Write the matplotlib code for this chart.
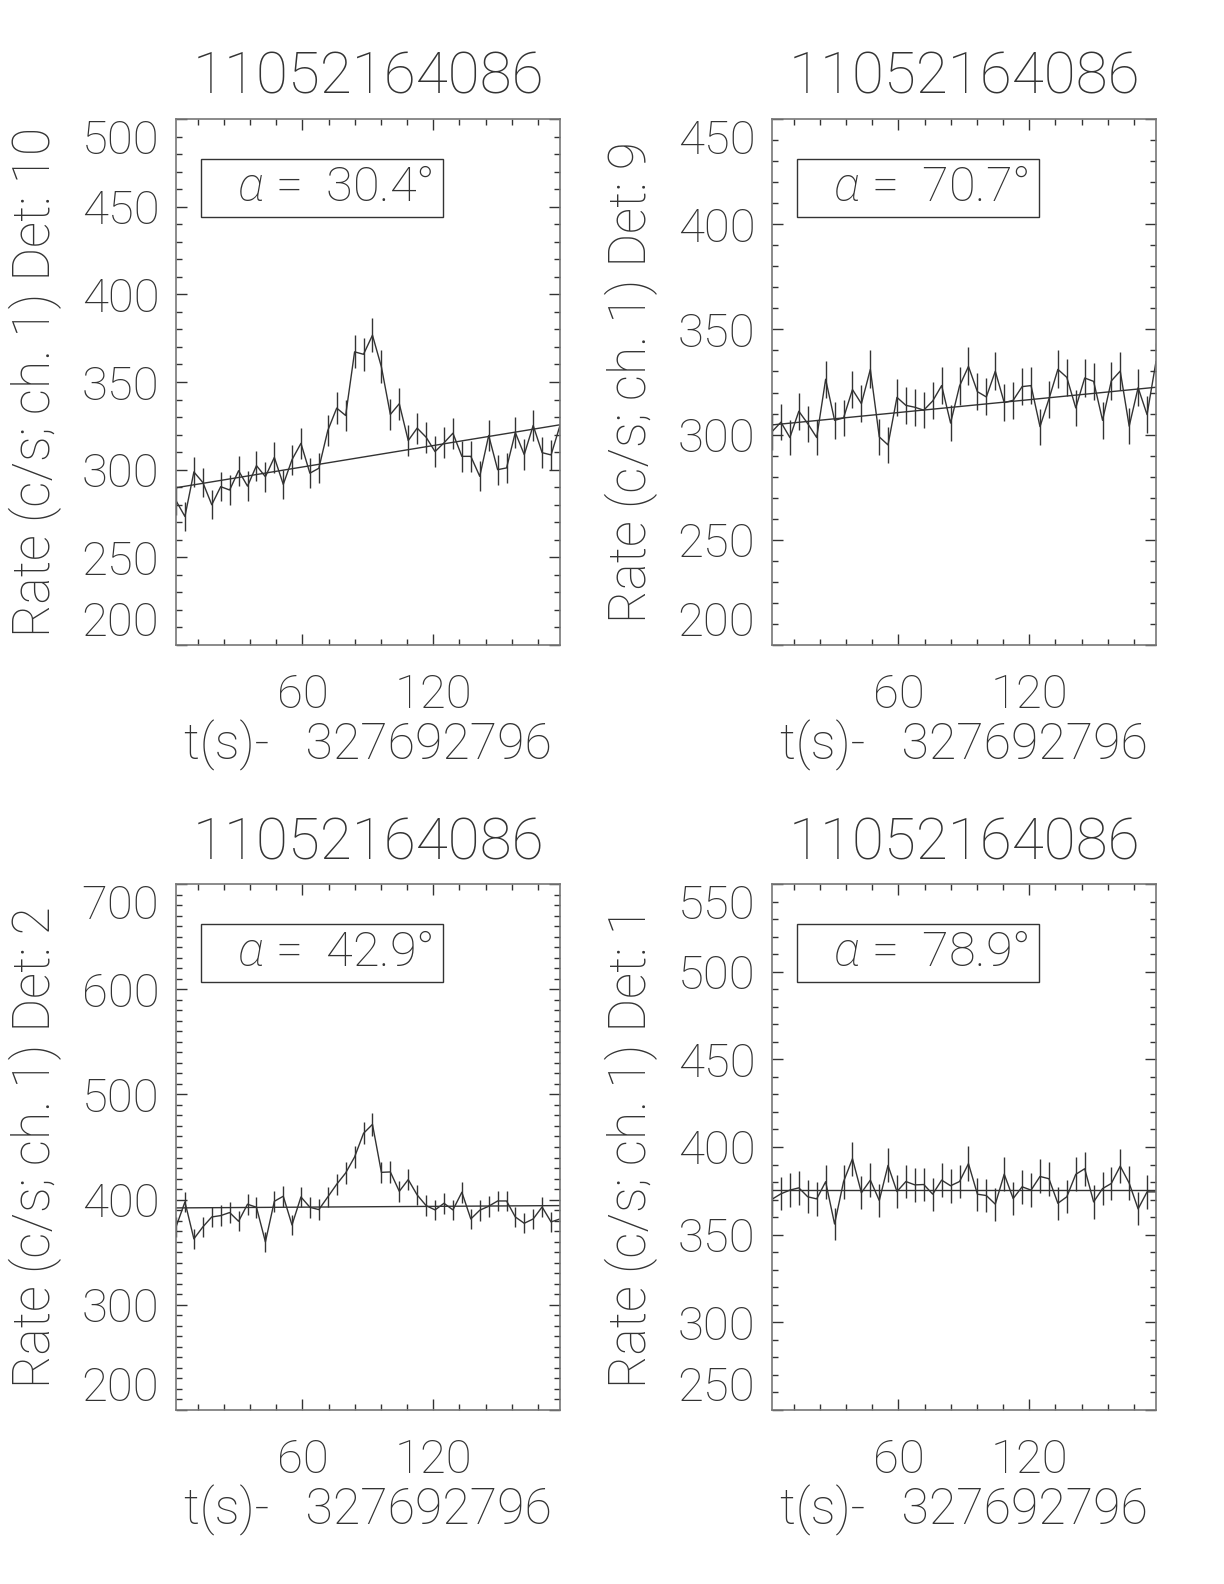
from matplotlib import pyplot as plt
from matplotlib import font_manager as fm
from matplotlib.patches import Rectangle
from matplotlib.ticker import MultipleLocator
import numpy as np


# 选一个细体字体（模仿 IDL 的 Hershey 字）
def pick_light_font():
    for fam in ['Roboto', 'Lato', 'Open Sans', 'Noto Sans', 'DejaVu Sans']:
        ws = []
        for f in fm.fontManager.ttflist:
            w = f.weight if isinstance(f.weight, int) else fm.weight_dict.get(f.weight, 400)
            if f.name == fam and f.style == 'normal' and w <= 300:
                ws.append(w)
        if ws:
            return fam, min(ws)
    return 'DejaVu Sans', 'normal'


font_name, font_w = pick_light_font()
plt.rcParams['font.family'] = [font_name, 'DejaVu Sans']
plt.rcParams['font.weight'] = font_w
plt.rcParams['mathtext.fontset'] = 'custom'
plt.rcParams['mathtext.it'] = font_name + ':italic'
plt.rcParams['mathtext.rm'] = font_name

# 数据
time = [2.0, 6.1, 10.2, 14.3, 18.4, 22.5, 26.6, 30.7, 34.8, 38.9, 43.0,
        47.1, 51.2, 55.2, 59.3, 63.4, 67.5, 71.6, 75.7, 79.8, 83.9, 88.0,
        92.1, 96.2, 100.3, 104.4, 108.5, 112.6, 116.7, 120.8, 124.9, 129.0,
        133.1, 137.2, 141.3, 145.4, 149.5, 153.6, 157.6, 161.7, 165.8,
        169.9, 174.0, 178.1]

rate_det10 = [282.3, 273.3, 298.7, 292.7, 280.0, 290.3, 288.4, 299.4, 290.6,
              302.3, 296.0, 307.0, 291.6, 305.7, 315.0, 298.0, 300.8, 322.3,
              335.1, 330.9, 367.2, 365.8, 376.7, 358.6, 331.5, 337.6, 316.6,
              323.7, 318.5, 310.3, 315.3, 320.8, 307.6, 307.6, 296.2, 319.5,
              300.0, 301.0, 321.2, 308.6, 325.2, 309.7, 308.4, 325.2]
err_det10 = [8.3, 8.2, 8.5, 8.5, 8.3, 8.4, 8.4, 8.5, 8.4, 8.6, 8.5, 8.7, 8.4,
             8.6, 8.8, 8.5, 8.6, 8.9, 9.0, 9.0, 9.5, 9.4, 9.6, 9.4, 9.0, 9.1,
             8.8, 8.9, 8.8, 8.7, 8.8, 8.8, 8.7, 8.7, 8.5, 8.8, 8.6, 8.6, 8.8,
             8.7, 8.9, 8.7, 8.7, 8.9]

rate_det9 = [301.4, 305.9, 298.6, 311.1, 305.2, 298.6, 326.3, 306.8, 307.9,
             321.4, 314.7, 331.0, 298.9, 295.1, 317.7, 313.9, 313.0, 311.6,
             316.0, 323.3, 305.5, 323.1, 332.4, 320.4, 317.9, 330.1, 315.2,
             316.3, 322.8, 323.3, 303.8, 316.9, 331.0, 327.2, 312.7, 326.9,
             325.3, 306.8, 325.5, 330.2, 304.0, 322.3, 309.5, 334.7]
err_det9 = [8.6, 8.6, 8.5, 8.7, 8.6, 8.5, 8.9, 8.7, 8.7, 8.9, 8.8, 9.0, 8.5,
            8.5, 8.8, 8.7, 8.7, 8.7, 8.8, 8.9, 8.6, 8.9, 9.0, 8.8, 8.8, 9.0,
            8.8, 8.8, 8.9, 8.9, 8.6, 8.8, 9.0, 8.9, 8.7, 8.9, 8.9, 8.7, 8.9,
            9.0, 8.6, 8.9, 8.7, 9.0]

rate_det2 = [374.0, 397.8, 362.7, 374.0, 383.5, 384.8, 387.7, 379.4, 395.6,
             392.7, 359.8, 398.4, 403.2, 375.9, 402.5, 392.7, 390.5, 402.5,
             414.6, 425.3, 440.5, 463.0, 471.5, 425.9, 426.3, 407.9, 419.0,
             404.4, 394.3, 390.2, 396.5, 390.2, 407.0, 381.6, 389.9, 393.7,
             398.7, 398.7, 383.5, 377.5, 381.6, 393.0, 378.8, 381.6]
err_det2 = [9.6, 9.8, 9.4, 9.6, 9.7, 9.7, 9.7, 9.6, 9.8, 9.8, 9.4, 9.9, 9.9,
            9.6, 9.9, 9.8, 9.8, 9.9, 10.1, 10.2, 10.4, 10.6, 10.7, 10.2, 10.2,
            10.0, 10.1, 9.9, 9.8, 9.8, 9.8, 9.8, 10.0, 9.6, 9.8, 9.8, 9.9, 9.9,
            9.7, 9.6, 9.6, 9.8, 9.6, 9.6]

rate_det1 = [370.2, 373.3, 375.4, 376.7, 371.6, 370.4, 380.2, 356.1, 380.2,
             393.3, 373.9, 381.1, 369.5, 389.5, 374.6, 380.3, 378.4, 378.6,
             373.1, 381.1, 377.9, 380.3, 390.5, 373.1, 372.3, 367.4, 384.5,
             370.6, 377.3, 375.4, 383.2, 381.9, 367.9, 371.6, 384.4, 387.6,
             368.7, 376.3, 379.2, 389.1, 379.4, 364.7, 374.4, 374.4]
err_det1 = [9.5, 9.5, 9.6, 9.6, 9.5, 9.5, 9.6, 9.3, 9.6, 9.8, 9.5, 9.6, 9.5,
            9.7, 9.6, 9.6, 9.6, 9.6, 9.5, 9.6, 9.6, 9.6, 9.8, 9.5, 9.5, 9.5,
            9.7, 9.5, 9.6, 9.6, 9.7, 9.6, 9.5, 9.5, 9.7, 9.7, 9.5, 9.6, 9.6,
            9.7, 9.6, 9.4, 9.6, 9.6]

rates = [rate_det10, rate_det9, rate_det2, rate_det1]
errs = [err_det10, err_det9, err_det2, err_det1]
fit_start = [289.7, 304.6, 392.1, 375.6]   # 背景拟合直线（起点/终点）
fit_end = [325.6, 322.5, 394.3, 375.6]
det_names = ['10', '9', '2', '1']
alphas = [30.4, 70.7, 42.9, 78.9]
burst_id = '11052164086'
t_ref = '327692796'
ylims = [(200, 500), (200, 450), (200, 700), (250, 550)]
yticks = [[200, 250, 300, 350, 400, 450, 500],
          [200, 250, 300, 350, 400, 450],
          [200, 300, 400, 500, 600, 700],
          [250, 300, 350, 400, 450, 500, 550]]
xticks = [60, 120]

ink = '#333333'

fig = plt.figure(figsize=(12.24, 15.84), dpi=100)
W, H = 1224, 1584
lefts = [176, 772, 176, 772]
tops = [119, 119, 884, 884]

for k in range(4):
    ax = fig.add_axes([lefts[k] / W, 1 - (tops[k] + 526) / H, 384 / W, 526 / H])
    r = np.array(rates[k])
    e = np.array(errs[k])

    ax.plot(time, r, color=ink, lw=1.0)
    ax.vlines(time, r - e, r + e, color=ink, lw=1.0)
    ax.plot([time[0], time[-1]], [fit_start[k], fit_end[k]], color=ink, lw=1.0)

    ax.set_xlim(time[0], time[-1])
    ax.set_ylim(*ylims[k])
    ax.set_xticks(xticks)
    ax.xaxis.set_minor_locator(MultipleLocator(12))
    ax.set_yticks(yticks[k])
    ax.yaxis.set_minor_locator(MultipleLocator(10))

    ax.tick_params(which='both', direction='in', top=True, right=True,
                   color=ink, width=1.0)
    ax.tick_params(which='major', length=8)
    ax.tick_params(which='minor', length=4)
    ax.tick_params(axis='y', labelsize=34, pad=12, labelcolor=ink)
    ax.tick_params(axis='x', labelsize=34, pad=20, labelcolor=ink)
    for s in ax.spines.values():
        s.set_color('#777777')
        s.set_linewidth(1.2)

    # 顶端/底端刻度标签往里收（IDL 风格）
    for t, v in zip(ax.yaxis.get_major_ticks(), yticks[k]):
        if v == ylims[k][1]:
            t.label1.set_verticalalignment('top')
        elif v == ylims[k][0]:
            t.label1.set_verticalalignment('bottom')

    ax.set_title(burst_id, fontsize=42, color=ink, pad=18, fontweight=font_w)
    ax.set_ylabel('Rate (c/s; ch. 1) Det: ' + det_names[k], fontsize=37,
                  color=ink, fontweight=font_w)
    ax.yaxis.label.set_verticalalignment('center')
    ax.yaxis.set_label_coords(-0.367, 0.5)
    ax.set_xlabel('t(s)-   ' + t_ref, fontsize=36, color=ink, fontweight=font_w)
    ax.xaxis.label.set_verticalalignment('center')
    ax.xaxis.set_label_coords(0.5, -0.19)

    ax.add_patch(Rectangle((0.064, 0.814), 0.632, 0.110, transform=ax.transAxes,
                           fill=False, ec=ink, lw=1.0))
    ax.text(0.16, 0.869, r'$\alpha$ =  %.1f°' % alphas[k], transform=ax.transAxes,
            ha='left', va='center', fontsize=35, color=ink, fontweight=font_w)

plt.savefig('out.png', dpi=100)
